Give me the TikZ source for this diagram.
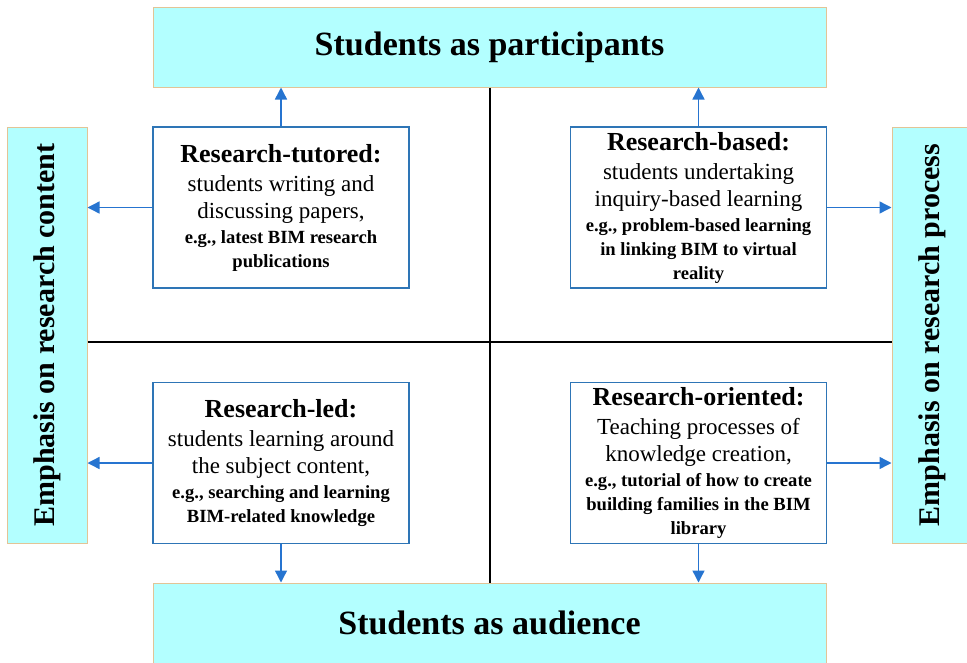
\documentclass[tikz,border=0pt]{standalone}
\usepackage{fontspec}
\setmainfont{Liberation Serif}
\usepackage{graphicx}
\usetikzlibrary{arrows.meta}

\definecolor{boxcyan}{RGB}{179,255,255}
\definecolor{boxtan}{RGB}{226,196,150}
\definecolor{lineblue}{RGB}{46,117,182}
\definecolor{arrowblue}{RGB}{38,116,208}

\newcommand{\hdline}[1]{{\fontsize{26}{30}\selectfont\bfseries #1}}
\newcommand{\egline}[1]{{\fontsize{18.6}{22}\selectfont\bfseries #1}}

\tikzset{
  rolebox/.style={draw=boxtan, fill=boxcyan, line width=1pt, minimum width=673pt,
    minimum height=80pt, inner sep=0pt, font=\fontsize{34}{40}\selectfont\bfseries},
  sidebox/.style={draw=boxtan, fill=boxcyan, line width=1pt, minimum width=80pt,
    minimum height=416pt, inner sep=0pt, font=\fontsize{30}{36}\selectfont\bfseries},
  modebox/.style={draw=lineblue, line width=1.2pt, fill=white, minimum width=256pt,
    minimum height=161pt, inner sep=0pt, align=center, font=\fontsize{23}{27}\selectfont},
  link/.style={arrowblue, line width=1.4pt, -{Triangle[length=12pt,width=12pt]}},
  axis/.style={black, line width=2pt}
}

\begin{document}
\begin{tikzpicture}[x=1pt,y=-1pt]
  \useasboundingbox (0,0) rectangle (967,662);
  \node[rolebox] (part) at (489.5,47) {Students as participants};
  \node[rolebox] (aud) at (489.5,623) {Students as audience};
  \node[sidebox] (content) at (47,335) {\rotatebox{90}{Emphasis on research content}};
  \node[sidebox] (process) at (932,335) {\rotatebox{90}{Emphasis on research process}};

  % the two axes
  \coordinate (cross) at (489.5,342);
  \draw[axis] (part.south) -- (aud.north);
  \draw[axis] (cross -| content.east) -- (cross -| process.west);

  % the four modes
  \node[modebox] (tutored) at (281,207.5) {\hdline{Research-tutored:}\\[2pt]
    students writing and\\ discussing papers,\\[-2pt]
    \egline{e.g., latest BIM research}\\[-3pt] \egline{publications}};
  \node[modebox] (based) at (698.5,207.5) {\hdline{Research-based:}\\[2pt]
    students undertaking\\ inquiry-based learning\\[-2pt]
    \egline{e.g., problem-based learning}\\[-3pt] \egline{in linking BIM to virtual}\\[-3pt]
    \egline{reality}};
  \node[modebox] (led) at (281,463) {\hdline{Research-led:}\\[2pt]
    students learning around\\ the subject content,\\[-2pt]
    \egline{e.g., searching and learning}\\[-3pt] \egline{BIM-related knowledge}};
  \node[modebox] (oriented) at (698.5,463) {\hdline{Research-oriented:}\\[2pt]
    Teaching processes of\\ knowledge creation,\\[-2pt]
    \egline{e.g., tutorial of how to create}\\[-3pt] \egline{building families in the BIM}\\[-3pt]
    \egline{library}};

  % arrows to the outer boxes
  \draw[link] (tutored.north) -- (tutored.north |- part.south);
  \draw[link] (based.north) -- (based.north |- part.south);
  \draw[link] (led.south) -- (led.south |- aud.north);
  \draw[link] (oriented.south) -- (oriented.south |- aud.north);
  \draw[link] (tutored.west) -- (tutored.west -| content.east);
  \draw[link] (led.west) -- (led.west -| content.east);
  \draw[link] (based.east) -- (based.east -| process.west);
  \draw[link] (oriented.east) -- (oriented.east -| process.west);
\end{tikzpicture}
\end{document}
